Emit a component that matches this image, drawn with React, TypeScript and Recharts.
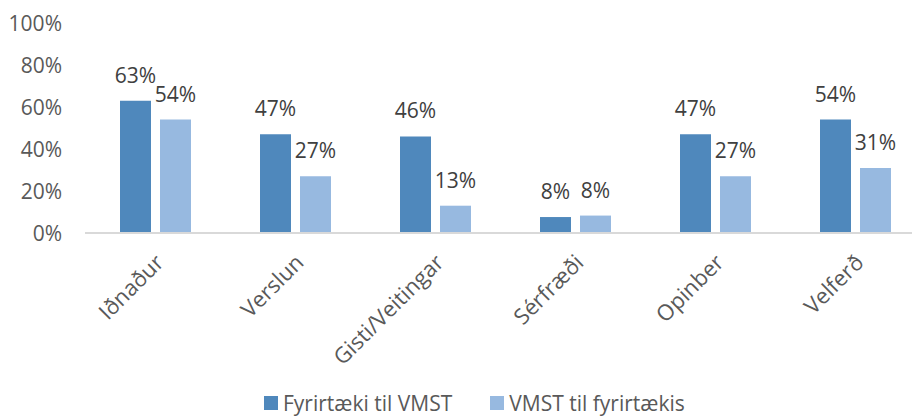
import React from 'react';
import { BarChart, Bar, XAxis, YAxis, LabelList, Legend } from 'recharts';

const categories = ['Iðnaður', 'Verslun', 'Gisti/Veitingar', 'Sérfræði', 'Opinber', 'Velferð'];
const fyrirtaekiTilVmst = [63, 47, 46, 7.6, 47, 54];
const vmstTilFyrirtaekis = [54, 27, 13, 8.3, 27, 31];
const yTicks = [0, 20, 40, 60, 80, 100];
const seriesNames = ['Fyrirtæki til VMST', 'VMST til fyrirtækis'];
const colors = ['#4F88BC', '#97B9E0'];

const data = categories.map((c, i) => ({
  name: c,
  a: fyrirtaekiTilVmst[i],
  b: vmstTilFyrirtaekis[i],
}));

const FONT = '"Open Sans", sans-serif';

const XTick = (props: any) => {
  const { x, y, payload } = props;
  return (
    <text
      transform={`translate(${x + 10},${y + 31}) rotate(-45)`}
      textAnchor="end"
      fill="#595959"
      fontSize={22}
      fontFamily={FONT}
    >
      {payload.value}
    </text>
  );
};

const YTick = (props: any) => {
  const { x, y, payload } = props;
  return (
    <text x={x} y={y} dy="0.36em" textAnchor="end" fill="#595959" fontSize={21} fontFamily={FONT}>
      {`${payload.value}%`}
    </text>
  );
};

const LegendContent = () => (
  <div style={{ display: 'flex', alignItems: 'center', height: 22, lineHeight: '22px', fontFamily: FONT, fontSize: 21, color: '#595959', whiteSpace: 'nowrap' }}>
    {seriesNames.map((n, i) => (
      <div key={n} style={{ display: 'flex', alignItems: 'center', marginRight: i === 0 ? 38 : 0 }}>
        <div style={{ width: 14, height: 14, background: colors[i], marginRight: 5 }} />
        <span>{n}</span>
      </div>
    ))}
  </div>
);

export default function App() {
  return (
    <div style={{ position: 'absolute', left: 0, top: 0, width: 912, height: 418, overflow: 'hidden', background: '#fff' }}>
      <BarChart
        width={930}
        height={418}
        data={data}
        margin={{ top: 23, right: 5, left: 0, bottom: 0 }}
        barGap={9}
        barSize={31}
      >
        <YAxis
          type="number"
          domain={[0, 100]}
          ticks={yTicks}
          width={85}
          axisLine={false}
          tickLine={false}
          tickSize={0}
          tickMargin={23}
          tick={<YTick />}
        />
        <XAxis
          dataKey="name"
          height={163}
          interval={0}
          axisLine={{ stroke: '#D9D9D9', strokeWidth: 2 }}
          tickLine={false}
          tickSize={0}
          tickMargin={0}
          tick={<XTick />}
        />
        <Legend
          verticalAlign="bottom"
          height={22}
          content={<LegendContent />}
          wrapperStyle={{ left: 264, bottom: 4, width: 'auto' }}
        />
        <Bar dataKey="a" fill={colors[0]} isAnimationActive={false}>
          <LabelList
            dataKey="a"
            position="top"
            offset={18}
            formatter={(v: any) => `${Math.round(v)}%`}
            fill="#404040"
            fontSize={21}
            fontFamily={FONT}
          />
        </Bar>
        <Bar dataKey="b" fill={colors[1]} isAnimationActive={false}>
          <LabelList
            dataKey="b"
            position="top"
            offset={18}
            formatter={(v: any) => `${Math.round(v)}%`}
            fill="#404040"
            fontSize={21}
            fontFamily={FONT}
          />
        </Bar>
      </BarChart>
    </div>
  );
}
